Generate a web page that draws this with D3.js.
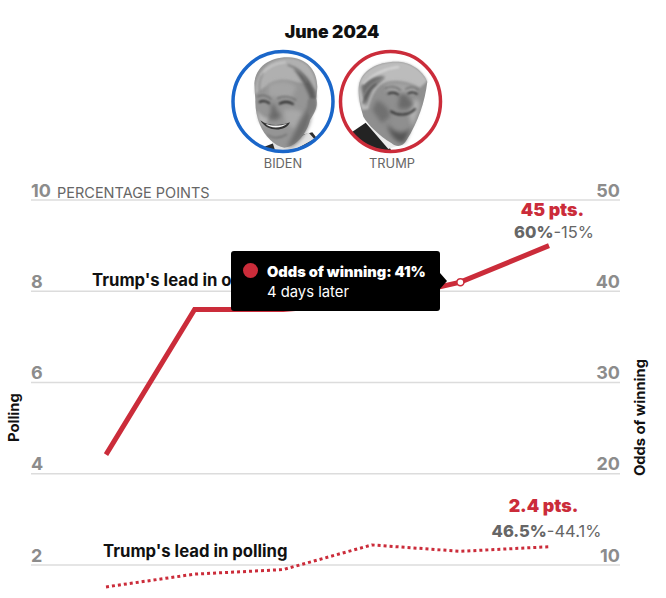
<!DOCTYPE html>
<html>
<head>
<meta charset="utf-8">
<script src="https://cdn.jsdelivr.net/npm/d3@7"></script>
<style>
body { margin: 0; background: #fff; }
svg { display: block; font-family: Inter, "Noto Sans", sans-serif; }
.tick-label { font-size: 18px; font-weight: 700; fill: #8c8c8c; }
.lead { font-size: 16.7px; font-weight: 700; fill: #111; }
.axis-title { font-size: 14.7px; font-weight: 700; fill: #111; }
.pts { font-size: 17.8px; font-weight: 900; fill: #cb2c3a; text-anchor: middle; }
.pct { font-size: 16.5px; fill: #666; text-anchor: middle; }
</style>
</head>
<body>
<svg width="666" height="598"></svg>
<script>
var svg = d3.select("svg");

// values
let months = [0, 1, 2, 3, 4, 5];
let oddsLead = [22.1, 38, 38, 38.8, 41, 45];
let pollLead = [1.52, 1.8, 1.9, 2.44, 2.3, 2.4];
let pollTicks = [2, 4, 6, 8, 10];
let oddsTicks = [10, 20, 30, 40, 50];
let hoverIndex = 4;

let x = d3.scaleLinear().domain([0, 5]).range([106, 549]);
let yPoll = d3.scaleLinear().domain([2, 10]).range([565, 200]);
let yOdds = d3.scaleLinear().domain([10, 50]).range([565, 200]);

// header
svg.append("text").attr("x", 332).attr("y", 38).attr("text-anchor", "middle")
    .style("font-size", "17.5px").style("font-weight", 900).style("fill", "#111").text("June 2024");

drawPortrait(283, 101.5, "#1a66c9", "BIDEN", 283, bidenFace);
drawPortrait(390.5, 101.5, "#cb2c3a", "TRUMP", 392, trumpFace);

// grid and ticks
svg.selectAll(".grid").data(pollTicks).enter().append("line")
    .attr("class", "grid")
    .attr("x1", 31).attr("x2", 620)
    .attr("y1", d => yPoll(d)).attr("y2", d => yPoll(d))
    .style("stroke", "#dcdcdc").style("stroke-width", 1.5);

svg.selectAll(".left-tick").data(pollTicks).enter().append("text")
    .attr("class", "tick-label")
    .attr("x", 31).attr("y", d => yPoll(d) - 3.5)
    .text(d => d);

svg.selectAll(".right-tick").data(oddsTicks).enter().append("text")
    .attr("class", "tick-label")
    .attr("x", 620).attr("y", d => yOdds(d) - 3.5)
    .attr("text-anchor", "end")
    .text(d => d);

svg.append("text").attr("x", 57).attr("y", 198)
    .style("font-size", "14.5px").style("fill", "#666").text("PERCENTAGE POINTS");

svg.append("text").attr("class", "axis-title")
    .attr("transform", "translate(19,442) rotate(-90)").text("Polling");
svg.append("text").attr("class", "axis-title")
    .attr("transform", "translate(645,476) rotate(-90)").text("Odds of winning");

svg.append("text").attr("class", "lead").attr("x", 92).attr("y", 286).text("Trump's lead in odds");
svg.append("text").attr("class", "lead").attr("x", 103).attr("y", 557).text("Trump's lead in polling");

// lines
let oddsLine = d3.line().x(d => x(d)).y(d => yOdds(oddsLead[d]));
let pollLine = d3.line().x(d => x(d)).y(d => yPoll(pollLead[d]));

svg.append("path").datum(months).attr("d", pollLine)
    .style("fill", "none").style("stroke", "#cb2c3a").style("stroke-width", 3)
    .style("stroke-dasharray", "3 3");
svg.append("path").datum(months).attr("d", oddsLine)
    .style("fill", "none").style("stroke", "#cb2c3a").style("stroke-width", 5);

svg.append("circle")
    .attr("cx", x(hoverIndex)).attr("cy", yOdds(oddsLead[hoverIndex])).attr("r", 3.5)
    .style("fill", "#fff").style("stroke", "#cb2c3a").style("stroke-width", 1.5);

// end labels
svg.append("text").attr("class", "pts").attr("x", 552.5).attr("y", 216).text("45 pts.");
let oddsLabel = svg.append("text").attr("class", "pct").attr("x", 554).attr("y", 238);
oddsLabel.append("tspan").style("font-weight", 800).text("60%");
oddsLabel.append("tspan").text("-15%");

svg.append("text").attr("class", "pts").attr("x", 543.5).attr("y", 512).text("2.4 pts.");
let pollLabel = svg.append("text").attr("class", "pct").attr("x", 546.5).attr("y", 537);
pollLabel.append("tspan").style("font-weight", 800).text("46.5%");
pollLabel.append("tspan").text("-44.1%");

// tooltip
let tip = svg.append("g");
tip.append("rect").attr("x", 231).attr("y", 251).attr("width", 209).attr("height", 60).attr("rx", 3)
    .style("fill", "#000");
tip.append("path").attr("d", "M440,273L447,281L440,289Z").style("fill", "#000");
tip.append("circle").attr("cx", 250.5).attr("cy", 270.5).attr("r", 7.5).style("fill", "#cb2c3a");
tip.append("text").attr("x", 267).attr("y", 277).style("fill", "#fff")
    .style("font-size", "14.6px").style("font-weight", 900)
    .text(`Odds of winning: ${oddsLead[hoverIndex]}%`);
tip.append("text").attr("x", 267).attr("y", 297).style("fill", "#fff")
    .style("font-size", "14.8px").text("4 days later");

function drawPortrait(cx, cy, color, name, labelX, face) {
    let id = "clip" + name;
    svg.append("clipPath").attr("id", id).append("circle")
        .attr("cx", cx).attr("cy", cy).attr("r", 49);
    let g = svg.append("g").attr("clip-path", `url(#${id})`);
    face(g);
    svg.append("circle").attr("cx", cx).attr("cy", cy).attr("r", 50)
        .style("fill", "none").style("stroke", color).style("stroke-width", 3.5);
    svg.append("text").attr("x", labelX).attr("y", 168).attr("text-anchor", "middle")
        .style("font-size", "12.8px").style("fill", "#666").text(name);
}

// rough greyscale stand-ins for the two photos, coordinates in zoomed crop pixels
function shape(g, d, fill, blur) {
    return g.append("path").attr("d", d).style("fill", fill)
        .style("filter", `blur(${blur === undefined ? 4 : blur}px)`);
}

function streak(g, d, color, width) {
    return g.append("path").attr("d", d).style("fill", "none").style("stroke", color)
        .style("stroke-width", width).style("stroke-linecap", "round").style("filter", "blur(2.5px)");
}

function bidenFace(g) {
    let f = g.append("g").attr("transform", "translate(225,45) scale(0.3333)");
    shape(f, "M118,305L170,285L262,262L285,292L200,328L125,322Z", "#2e2e2e", 1);
    shape(f, "M140,285L185,300L250,262L268,282L195,322L150,315Z", "#e2e2e2", 1);
    // head and hair
    shape(f, "M88,115C92,65 135,36 190,37C245,39 276,75 277,125L274,160C280,185 266,208 255,225C245,265 215,305 178,308C150,305 118,272 105,240C95,215 90,190 91,165Z", "#959595", 1);
    shape(f, "M90,150C86,80 135,40 190,40C245,42 275,80 275,140C262,125 240,112 215,112C190,100 150,100 125,122C110,132 98,140 90,150Z", "#b0b0b0", 3);
    shape(f, "M130,120C155,105 195,105 215,125L200,160L130,155Z", "#a4a4a4", 6);
    shape(f, "M205,70C240,85 268,115 273,160L258,170C250,140 235,110 205,70Z", "#5e5e5e", 5);
    streak(f, "M110,90C125,65 150,55 180,52", "#c8c8c8", 6);
    streak(f, "M190,60C215,68 235,85 245,110", "#777", 5);
    streak(f, "M105,140C100,115 105,100 115,85", "#8a8a8a", 4);
    // face
    shape(f, "M95,195C110,215 125,222 135,215L120,245L102,230Z", "#b4b4b4", 5);
    shape(f, "M175,195C200,190 225,195 235,205L210,255L180,230Z", "#a8a8a8", 6);
    shape(f, "M215,250C225,225 245,195 262,170L255,225C245,265 215,305 185,308Z", "#6c6c6c", 6);
    // eyes, nose, mouth
    streak(f, "M104,171C114,166 124,168 133,175", "#2a2a2a", 6);
    streak(f, "M164,176C176,169 192,170 204,177", "#2a2a2a", 6);
    streak(f, "M98,155C112,148 128,152 138,162", "#666", 4);
    streak(f, "M158,160C178,150 200,156 212,165", "#666", 4);
    shape(f, "M135,180C145,190 135,212 128,220C145,230 165,224 168,210C155,200 152,190 150,178Z", "#6a6a6a", 6);
    shape(f, "M106,226C130,244 165,244 195,232C182,262 125,262 106,226Z", "#333", 2);
    shape(f, "M122,236C140,244 165,243 186,236C172,250 135,252 122,236Z", "#f6f6f6", 1);
    streak(f, "M128,270C145,282 165,280 185,268", "#707070", 4);
    // ear
    shape(f, "M248,168C262,150 279,165 272,190C266,206 255,212 248,206Z", "#7c7c7c", 3);
}

function trumpFace(g) {
    let f = g.append("g").attr("transform", "translate(335,45) scale(0.3333)");
    shape(f, "M50,262L92,233L160,300L175,328L85,328Z", "#232323", 1);
    shape(f, "M92,233L130,262L195,300L160,312Z", "#ececec", 1);
    // head and hair
    shape(f, "M72,120C80,75 130,48 190,50C235,52 268,85 277,110C270,170 250,230 215,285C205,305 185,308 170,295C130,270 100,240 85,215C75,180 68,150 72,120Z", "#8f8f8f", 1);
    shape(f, "M72,118C82,75 130,48 190,50C235,52 268,85 277,108L255,128C215,108 170,100 140,118C118,132 106,165 100,192L82,195C70,165 68,145 72,118Z", "#bcbcbc", 3);
    shape(f, "M78,125C95,100 120,90 150,95L112,135L92,185Z", "#6e6e6e", 5);
    streak(f, "M85,115C110,90 150,70 190,66", "#d8d8d8", 6);
    streak(f, "M88,150C100,125 118,108 145,100", "#8f8f8f", 4);
    streak(f, "M85,175C92,150 105,130 122,118", "#4f4f4f", 4);
    // face light and shade
    shape(f, "M150,118C185,108 225,115 250,130L240,150L150,135Z", "#a4a4a4", 6);
    shape(f, "M125,165C145,175 165,190 165,215L140,235L112,195Z", "#707070", 7);
    shape(f, "M235,165C250,160 258,170 250,195L232,245L222,205Z", "#b4b4b4", 6);
    shape(f, "M155,235C180,268 205,270 228,248L208,292C185,298 165,272 155,235Z", "#555", 6);
    // eyes, nose, mouth
    streak(f, "M160,146C170,141 182,143 190,149", "#2a2a2a", 5);
    streak(f, "M219,146C227,141 238,142 246,147", "#2a2a2a", 5);
    streak(f, "M150,130C165,122 185,125 196,135", "#666", 4);
    streak(f, "M212,132C225,124 240,126 250,134", "#666", 4);
    shape(f, "M192,150C197,165 186,180 190,190C210,196 234,190 234,175C224,165 216,155 213,148Z", "#6a6a6a", 6);
    streak(f, "M168,199C190,214 220,212 240,192", "#333", 6);
}
</script>
</body>
</html>
